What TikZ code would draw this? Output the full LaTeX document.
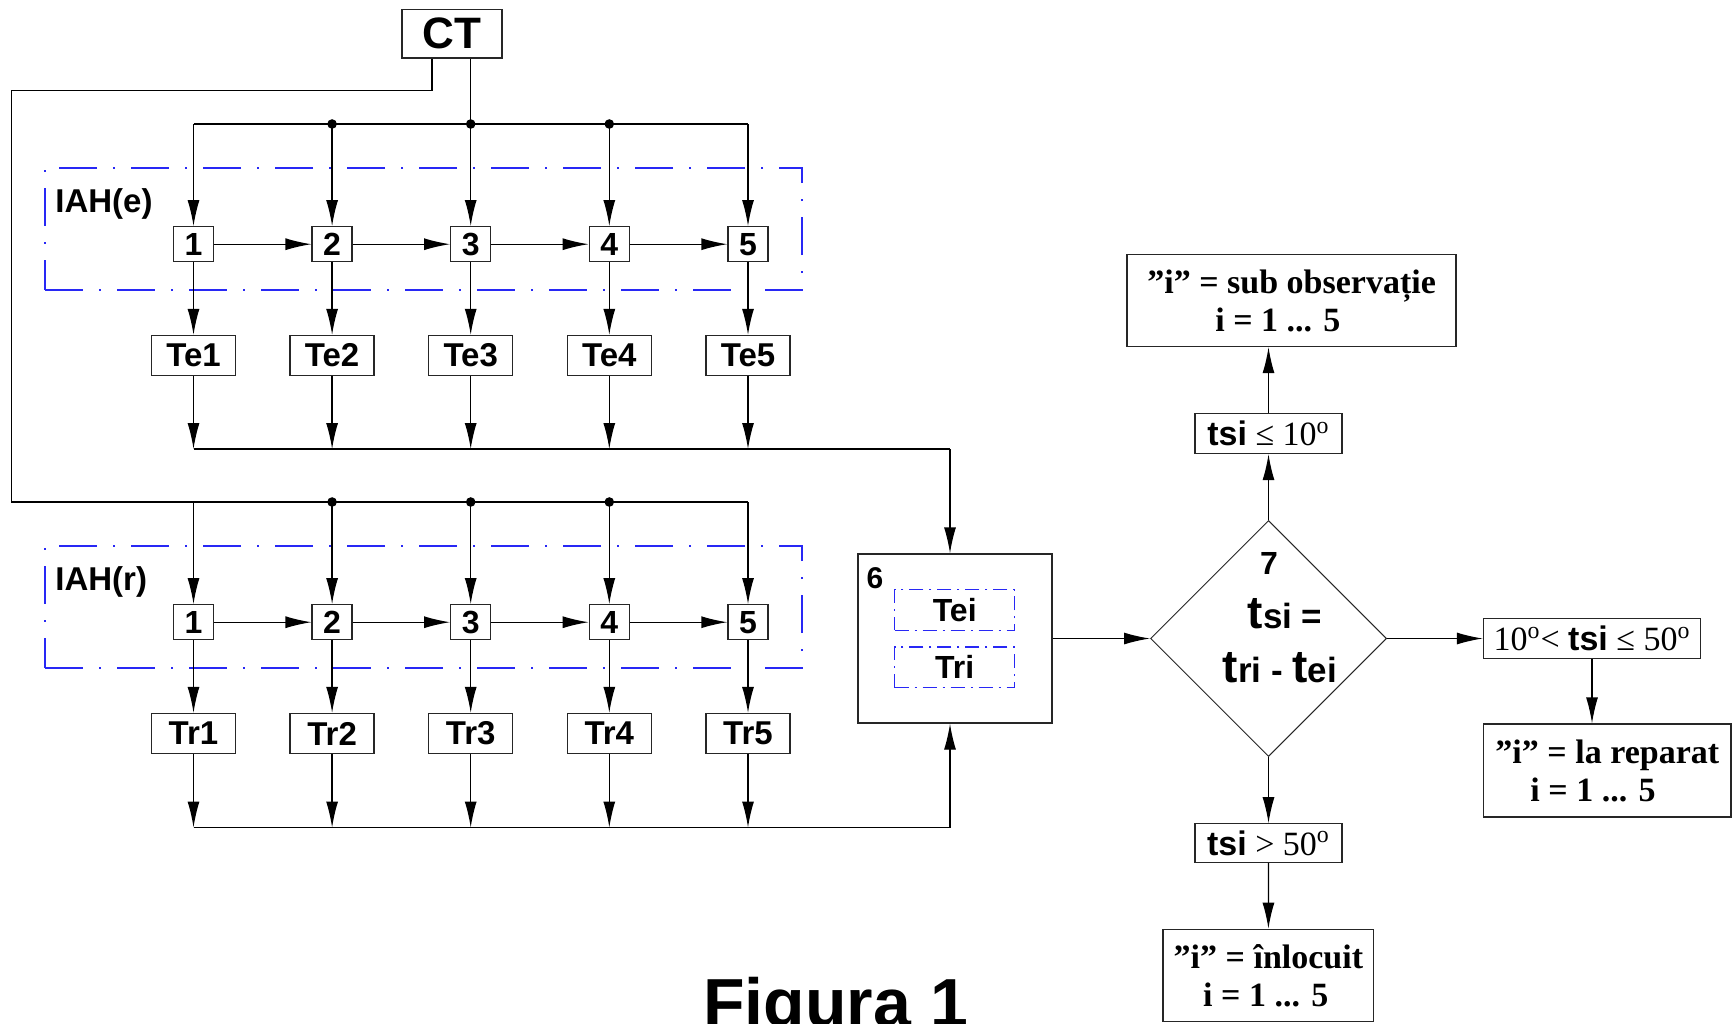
\documentclass[tikz,border=0pt]{standalone}
\usepackage{fontspec}
\setmainfont{Liberation Serif}
\setsansfont{Liberation Sans}
\usepackage{tikz}
\usetikzlibrary{arrows.meta,positioning,shapes.geometric}
\definecolor{iahblue}{RGB}{40,40,245}
\newcommand{\grad}{\textsuperscript{o}}
\newcommand{\tsival}{{\sffamily\bfseries tsi}}
\newcommand{\tbig}{{\fontsize{23}{27}\selectfont t}}
\tikzset{
  wire/.style={draw=black, line width=0.65pt},
  flow/.style={wire, -{Latex[length=13pt,width=6pt]}},
  iah-frame/.style={draw=iahblue, line width=0.8pt, inner sep=0pt,
    dash pattern=on 19pt off 8pt on 1pt off 8pt},
  iah-label/.style={anchor=base west, inner sep=0pt, font=\sffamily\bfseries\fontsize{16.5}{18}\selectfont},
  ct-box/.style={draw=black!85, line width=0.65pt, inner sep=0pt, minimum width=50pt, minimum height=24.4pt,
    font=\sffamily\bfseries\fontsize{22}{24}\selectfont},
  senzor-box/.style={draw=black!85, fill=white, line width=0.65pt, inner sep=0pt,
    minimum width=20pt, minimum height=17.5pt, font=\sffamily\bfseries\fontsize{16}{18}\selectfont},
  temp-box/.style={senzor-box, minimum width=42pt, minimum height=20pt,
    font=\sffamily\bfseries\fontsize{16.5}{18}\selectfont},
  proc-box/.style={draw=black!85, line width=0.65pt, inner sep=0pt, minimum width=97pt, minimum height=84.5pt},
  proc-label/.style={inner sep=0pt, font=\sffamily\bfseries\fontsize{15}{17}\selectfont},
  meas-box/.style={draw=iahblue, line width=0.6pt, inner sep=0pt, minimum width=60pt, minimum height=20.3pt,
    dash pattern=on 7pt off 3pt on 1pt off 3pt, font=\sffamily\bfseries\fontsize{16}{18}\selectfont},
  decision/.style={diamond, aspect=1, draw=black!85, line width=0.5pt, inner sep=0pt,
    minimum width=118pt, minimum height=118pt},
  cond-text/.style={align=center, inner sep=0pt, font=\sffamily\bfseries\fontsize{17.5}{27}\selectfont},
  limit-box/.style={draw=black!85, line width=0.65pt, inner sep=0pt, minimum width=73.5pt, minimum height=20pt,
    font=\fontsize{17}{19}\selectfont},
  result-box/.style={draw=black!85, line width=0.65pt, inner sep=0pt, minimum height=46pt, align=left,
    font=\bfseries\fontsize{17}{19}\selectfont},
  caption/.style={anchor=base west, inner sep=0pt, font=\sffamily\bfseries\fontsize{34}{38}\selectfont}
}

\begin{document}
\begin{tikzpicture}[x=0.5pt, y=-0.5pt]
  \useasboundingbox (0,0) rectangle (1733,1023);
  \clip (0,0) rectangle (1733,1023);

  % CT and the two IAH groups
  \node[ct-box] (ct) at (452,33.7) {CT};
  \node[iah-frame, minimum width=378.5pt, minimum height=61pt] (frame-e) at (423.5,229) {};
  \node[iah-frame, minimum width=378.5pt, minimum height=61pt] (frame-r) at (423.5,607) {};
  \node[iah-label] (label-e) at (55,212) {IAH(e)};
  \node[iah-label] (label-r) at (55,590) {IAH(r)};
  \foreach \k/\x in {1/193.5,2/332.1,3/470.7,4/609.3,5/748}{
    \coordinate (bus-e\k) at (\x,124);
    \coordinate (bus-r\k) at (\x,502);
    \coordinate (out-e\k) at (\x,449);
    \coordinate (out-r\k) at (\x,827.5);
    \node[senzor-box] (e\k) at (\x,244.2) {\k};
    \node[senzor-box] (r\k) at (\x,622.2) {\k};
    \node[temp-box] (te\k) at (\x,355.5) {Te\k};
    \node[temp-box] (tr\k) at (\x,733.5) {Tr\k};
    \draw[flow] (bus-e\k) -- (e\k);
    \draw[flow] (bus-r\k) -- (r\k);
    \draw[flow] (e\k) -- (te\k);
    \draw[flow] (r\k) -- (tr\k);
    \draw[flow] (te\k) -- (out-e\k);
    \draw[flow] (tr\k) -- (out-r\k);
  }
  \foreach \a/\b in {1/2,2/3,3/4,4/5}{
    \draw[flow] (e\a) -- (e\b);
    \draw[flow] (r\a) -- (r\b);
  }
  \draw[wire] (bus-e1) -- (bus-e5);
  \draw[wire] (ct.south -| bus-e3) -- (bus-e3);
  \coordinate (ret) at (11.5,90.3);
  \draw[wire] ([xshift=-10pt]ct.south) |- (ret) -- (ret |- bus-r1) -- (bus-r5);
  \foreach \k in {2,3,4}{
    \fill (bus-e\k) circle[radius=2.4pt];
    \fill (bus-r\k) circle[radius=2.4pt];
  }

  % block 6
  \node[proc-box] (box6) at (955,638.5) {};
  \node[proc-label] (label6) at (875,578.5) {6};
  \node[meas-box] (tei) at (954.7,610) {Tei};
  \node[meas-box] (tri) at (954.7,667.3) {Tri};
  \coordinate (in6) at (950,449);
  \coordinate (back6) at (950,827.5);
  \draw[wire] (out-e1) -- (in6);
  \draw[flow] (in6) -- (in6 |- box6.north);
  \draw[wire] (out-r1) -- (back6);
  \draw[flow] (back6) -- (back6 |- box6.south);

  % decision 7
  \node[decision] (cond) at (1268.5,638.5) {};
  \node[cond-text] (cond-txt) at (1280,617.5) {{\fontsize{16}{27}\selectfont 7}\hspace*{11pt}\\\hspace*{5pt}\tbig si =\\\tbig ri - \tbig ei};
  \draw[flow] (box6.east) -- (cond.west);

  \node[limit-box] (low) at (1268.5,433.5) {\tsival{} ≤ 10\grad};
  \node[result-box, minimum width=164.5pt] (obs) at (1291.6,300.5) {”i” = sub observație\\\hspace*{34pt}i = 1 ... 5};
  \draw[flow] (cond.north) -- (low.south);
  \draw[flow] (low.north) -- (low.north |- obs.south);

  \node[limit-box, minimum width=108.5pt] (mid) at (1592,638.5) {10\grad< \tsival{} ≤ 50\grad};
  \node[result-box, minimum width=123.75pt, minimum height=46.5pt] (rep) at (1607.3,770.5) {”i” = la reparat\\\hspace*{17.5pt}i = 1 ... 5};
  \draw[flow] (cond.east) -- (mid.west);
  \draw[flow] (mid.south) -- (mid.south |- rep.north);

  \node[limit-box, minimum height=19.2pt] (high) at (1268.5,843) {\tsival{} > 50\grad};
  \node[result-box, minimum width=105.35pt, minimum height=46.2pt] (inl) at (1268.4,975.5) {”i” = înlocuit\\\hspace*{14.75pt}i = 1 ... 5};
  \draw[flow] (cond.south) -- (high.north);
  \draw[flow] (high.south) -- (inl.north);

  \node[caption] (fig) at (703,1026) {Figura 1};
\end{tikzpicture}
\end{document}
